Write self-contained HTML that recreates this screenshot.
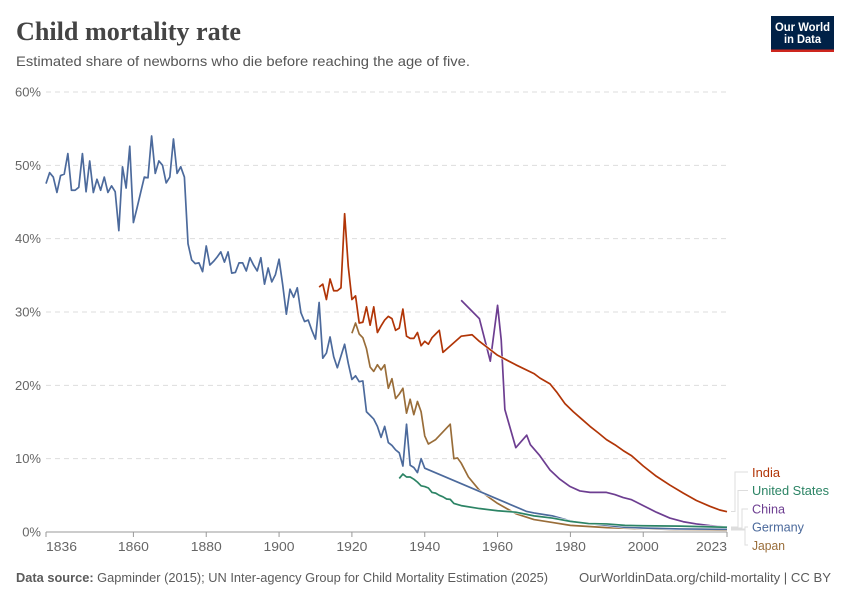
<!DOCTYPE html>
<html lang="en">
<head>
<meta charset="utf-8">
<title>Child mortality rate</title>
<style>
html,body{margin:0;padding:0;background:#fff;}
svg{display:block;font-family:"Liberation Sans",sans-serif;}
</style>
</head>
<body>
<svg id="chart" width="850" height="600" viewBox="0 0 850 600" xmlns="http://www.w3.org/2000/svg">
  <text x="16" y="40" font-family="'Liberation Serif',serif" font-weight="700" font-size="26" fill="#444" textLength="225" lengthAdjust="spacingAndGlyphs">Child mortality rate</text>
  <text x="16" y="66" font-size="14" fill="#555" textLength="454" lengthAdjust="spacingAndGlyphs">Estimated share of newborns who die before reaching the age of five.</text>

  <g>
    <rect x="771" y="16" width="63" height="36" fill="#002147"/>
    <rect x="771" y="49.5" width="63" height="2.5" fill="#ce261e"/>
    <text x="802.5" y="31" font-size="12" font-weight="700" fill="#fff" text-anchor="middle" textLength="55" lengthAdjust="spacingAndGlyphs">Our World</text>
    <text x="802.5" y="43" font-size="12" font-weight="700" fill="#fff" text-anchor="middle" textLength="37" lengthAdjust="spacingAndGlyphs">in Data</text>
  </g>

  <g id="y-grid"></g>
  <g id="x-axis"></g>
  <g id="series"></g>

  <g fill="none" stroke="#ddd" stroke-width="1">
    <path d="M731 511.5H735V472H748"/>
    <path d="M731 527H738V490.500H748"/>
    <path d="M731 528H742V509H748"/>
    <path d="M731 529H745V527H748"/>
    <path d="M731 530H745V545H748"/>
  </g>
  <g font-size="12.500">
    <text x="752" y="477" fill="#B13507" textLength="28" lengthAdjust="spacingAndGlyphs">India</text>
    <text x="752" y="495" fill="#2C8465" textLength="77" lengthAdjust="spacingAndGlyphs">United States</text>
    <text x="752" y="513.500" fill="#6D3E91" textLength="33" lengthAdjust="spacingAndGlyphs">China</text>
    <text x="752" y="531.500" fill="#4C6A9C" textLength="52" lengthAdjust="spacingAndGlyphs">Germany</text>
    <text x="752" y="550" fill="#996D39" textLength="33" lengthAdjust="spacingAndGlyphs">Japan</text>
  </g>

  <text x="16" y="582" font-size="13" fill="#5b5b5b" textLength="532" lengthAdjust="spacingAndGlyphs"><tspan font-weight="700">Data source:</tspan> Gapminder (2015); UN Inter-agency Group for Child Mortality Estimation (2025)</text>
  <text x="579" y="582" font-size="13" fill="#5b5b5b" textLength="252" lengthAdjust="spacingAndGlyphs">OurWorldinData.org/child-mortality | CC BY</text>
</svg>
<script>
const xTicks = [1836, 1860, 1880, 1900, 1920, 1940, 1960, 1980, 2000, 2023];
const yTicks = [0, 10, 20, 30, 40, 50, 60];

const germany = [[1836,47.5],[1837,49.0],[1838,48.4],[1839,46.3],[1840,48.6],[1841,48.8],[1842,51.6],[1843,46.6],[1844,46.6],[1845,47.0],[1846,51.6],[1847,46.4],[1848,50.6],[1849,46.3],[1850,48.1],[1851,46.6],[1852,48.4],[1853,46.3],[1854,47.2],[1855,46.4],[1856,41.1],[1857,49.8],[1858,46.9],[1859,52.6],[1860,42.2],[1861,44.2],[1862,46.3],[1863,48.4],[1864,48.3],[1865,54.0],[1866,48.9],[1867,50.6],[1868,50.0],[1869,47.6],[1870,48.4],[1871,53.6],[1872,48.9],[1873,49.8],[1874,48.4],[1875,39.3],[1876,37.1],[1877,36.6],[1878,36.7],[1879,35.5],[1880,39.0],[1881,36.4],[1882,36.9],[1883,37.5],[1884,38.2],[1885,36.8],[1886,38.2],[1887,35.3],[1888,35.4],[1889,36.7],[1890,36.7],[1891,35.6],[1892,37.4],[1893,36.4],[1894,35.6],[1895,37.4],[1896,33.8],[1897,36.0],[1898,34.1],[1899,35.1],[1900,37.2],[1901,33.7],[1902,29.7],[1903,33.1],[1904,32.0],[1905,33.3],[1906,29.9],[1907,28.7],[1908,28.9],[1909,27.5],[1910,26.3],[1911,31.3],[1912,23.7],[1913,24.4],[1914,26.6],[1915,23.9],[1916,22.4],[1917,24.0],[1918,25.6],[1919,23.0],[1920,20.8],[1921,21.3],[1922,20.5],[1923,20.6],[1924,16.4],[1925,15.9],[1926,15.4],[1927,14.4],[1928,12.9],[1929,14.4],[1930,12.2],[1931,11.8],[1932,11.2],[1933,10.8],[1934,9.0],[1935,14.7],[1936,9.1],[1937,8.8],[1938,8.1],[1939,10.0],[1940,8.7],[1968,2.8],[1970,2.6],[1975,2.2],[1980,1.5],[1985,1.15],[1990,0.9],[1995,0.65],[2000,0.55],[2010,0.42],[2023,0.37]];

const india = [[1911,33.4],[1912,33.8],[1913,31.7],[1914,34.5],[1915,32.9],[1916,32.9],[1917,33.3],[1918,43.4],[1919,36.2],[1920,31.7],[1921,32.2],[1922,28.5],[1923,28.6],[1924,30.7],[1925,28.2],[1926,30.7],[1927,27.2],[1928,28.1],[1929,28.9],[1930,29.4],[1931,29.1],[1932,27.5],[1933,27.8],[1934,30.4],[1935,26.7],[1936,26.4],[1937,26.4],[1938,27.2],[1939,25.4],[1940,26.0],[1941,25.6],[1942,26.5],[1943,27.0],[1944,27.5],[1945,24.5],[1950,26.7],[1953,26.9],[1955,26.0],[1960,24.1],[1965,22.8],[1970,21.6],[1971.6,21.0],[1974.4,20.2],[1976.2,19.1],[1978.5,17.5],[1980.8,16.4],[1983.1,15.4],[1985.4,14.4],[1987.7,13.5],[1989.9,12.6],[1992.2,11.9],[1994.5,11.1],[1996.8,10.4],[2000,9.0],[2003.6,7.6],[2007.3,6.4],[2011,5.3],[2014.6,4.3],[2018.3,3.5],[2021,3.0],[2023,2.77]];

const china = [[1950,31.6],[1955,29.1],[1958,23.3],[1960,30.9],[1961,26.2],[1962,16.7],[1965,11.5],[1968,13.2],[1969,11.9],[1971.6,10.4],[1974.4,8.45],[1977.1,7.2],[1979.9,6.2],[1982.6,5.6],[1985.4,5.4],[1989.9,5.4],[1992.2,5.1],[1994.5,4.7],[1996.8,4.4],[2000,3.6],[2003.6,2.7],[2007.3,1.9],[2011,1.4],[2014.6,1.1],[2018.3,0.87],[2023,0.65]];

const japan = [[1920,27.1],[1921,28.5],[1922,27.0],[1923,26.5],[1924,25.0],[1925,22.5],[1926,21.9],[1927,22.8],[1928,22.1],[1929,22.8],[1930,19.6],[1931,20.9],[1932,18.2],[1933,18.8],[1934,19.6],[1935,16.2],[1936,18.1],[1937,16.0],[1938,17.8],[1939,16.4],[1940,13.1],[1941,12.0],[1942,12.3],[1943,12.6],[1947,14.7],[1948,10.0],[1949,10.1],[1950,9.4],[1952,7.5],[1955,5.7],[1958,4.6],[1960,3.9],[1965,2.5],[1970,1.7],[1975,1.3],[1980,0.9],[1990,0.6],[2000,0.45],[2010,0.32],[2023,0.23]];

const unitedStates = [[1933,7.3],[1934,7.9],[1935,7.5],[1936,7.5],[1937,7.2],[1938,6.8],[1939,6.3],[1940,6.2],[1941,6.0],[1942,5.4],[1943,5.3],[1944,5.0],[1945,4.8],[1946,4.5],[1947,4.45],[1948,3.9],[1950,3.6],[1955,3.2],[1960,2.9],[1965,2.7],[1970,2.2],[1975,1.9],[1980,1.45],[1985,1.15],[1990,1.1],[1995,0.9],[2000,0.85],[2010,0.8],[2023,0.65]];

const NS = 'http://www.w3.org/2000/svg';
function xScale(year) { return 46 + (year - 1836) * (727 - 46) / (2023 - 1836); }
function yScale(value) { return 532 - value * (532 - 92) / 60; }
function make(tag, attrs, parent) {
  const el = document.createElementNS(NS, tag);
  Object.keys(attrs).forEach(function (k) { el.setAttribute(k, attrs[k]); });
  parent.appendChild(el);
  return el;
}

const yGroup = document.getElementById('y-grid');
yTicks.forEach(function (t) {
  if (t > 0) {
    const grid = make('line', {x1: 46, x2: 727, y1: yScale(t), y2: yScale(t), stroke: '#ddd', 'stroke-dasharray': '5,4'}, yGroup);
    
    
  }
  const label = make('text', {x: 41, y: yScale(t) + 4.5, 'text-anchor': 'end', 'font-size': 13, fill: '#666'}, yGroup);
  label.textContent = t + '%';
  
  
});

const xGroup = document.getElementById('x-axis');
const baseline = make('line', {x1: 46, x2: 727, y1: 532, y2: 532, stroke: '#999'}, xGroup);


xTicks.forEach(function (t, i) {
  const tick = make('line', {x1: xScale(t), x2: xScale(t), y1: 532, y2: 537, stroke: '#999'}, xGroup);
  
  
  const anchor = i === 0 ? 'start' : (i === xTicks.length - 1 ? 'end' : 'middle');
  const label = make('text', {x: xScale(t), y: 551, 'text-anchor': anchor, 'font-size': 13, fill: '#666', textLength: 31, lengthAdjust: 'spacingAndGlyphs'}, xGroup);
  label.textContent = String(t);
  
  
});

function drawSeries(points, color, name) {
  const group = document.getElementById('series');
  const d = points.map(function (p, i) {
    return (i ? 'L' : 'M') + xScale(p[0]).toFixed(2) + ' ' + yScale(p[1]).toFixed(2);
  }).join('');
  make('path', {d: d, fill: 'none', stroke: '#fff', 'stroke-width': 2.7, 'stroke-linejoin': 'round'}, group);
  const line = make('path', {d: d, fill: 'none', stroke: color, 'stroke-width': 1.7, 'stroke-linejoin': 'round'}, group);
  
  
}
drawSeries(japan, '#996D39', 'line-japan');
drawSeries(china, '#6D3E91', 'line-china');
drawSeries(india, '#B13507', 'line-india');
drawSeries(germany, '#4C6A9C', 'line-germany');
drawSeries(unitedStates, '#2C8465', 'line-united-states');
</script>
</body>
</html>
